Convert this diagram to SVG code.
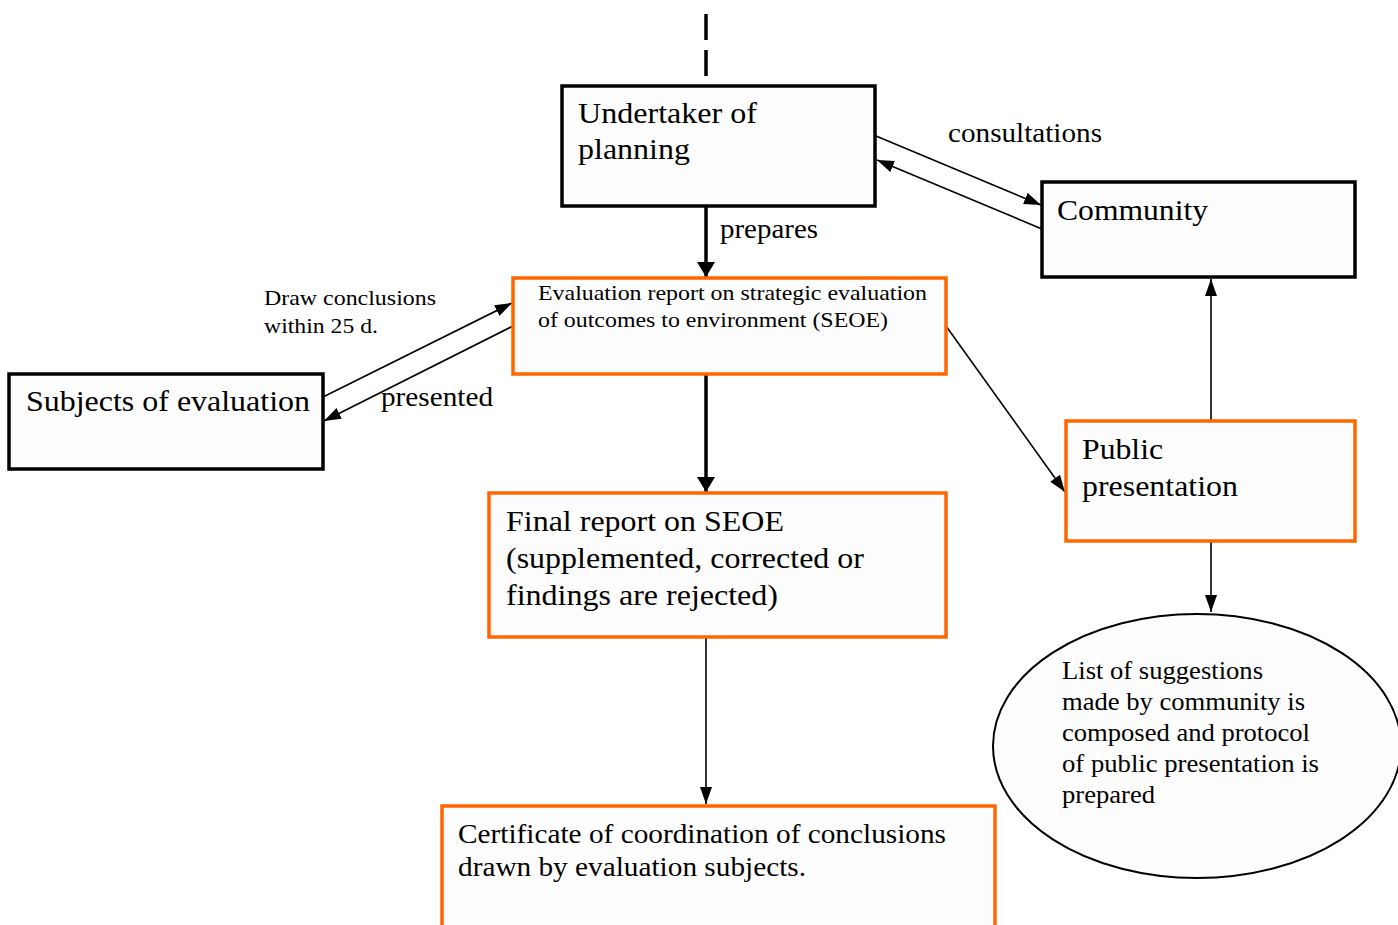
<svg xmlns="http://www.w3.org/2000/svg" width="1398" height="925" viewBox="0 0 1398 925" font-family="'Liberation Serif', 'Times New Roman', serif">
<defs>
<style>
text{font-family:'Liberation Serif','Times New Roman',serif;fill:#000}
.bk{fill:#fdfdfd;stroke:#000;stroke-width:3.5}
.or{fill:#fdfdfd;stroke:#FF6600;stroke-width:3.5}
.thick{stroke:#000;stroke-width:3.5;fill:none}
.thin{stroke:#000;stroke-width:1.6;fill:none}
</style>
<marker id="ah" viewBox="0 0 15 18" refX="15" refY="9" markerWidth="15" markerHeight="18" orient="auto" markerUnits="userSpaceOnUse"><path d="M0,0 L15,9 L0,18 z" fill="#000"/></marker>
<marker id="ahs" viewBox="0 0 17 12" refX="17" refY="6" markerWidth="17" markerHeight="12" orient="auto" markerUnits="userSpaceOnUse"><path d="M0,0 L17,6 L0,12 z" fill="#000"/></marker>
</defs>
<rect width="1398" height="925" fill="#fff"/>
<g id="connectors">
<line x1="706" y1="14" x2="706" y2="77" class="thick" stroke-dasharray="26,10"/>
<line x1="706" y1="207" x2="706" y2="277" class="thick" marker-end="url(#ah)"/>
<line x1="876" y1="136" x2="1041" y2="205" class="thin" marker-end="url(#ahs)"/>
<line x1="1042" y1="229" x2="877" y2="160" class="thin" marker-end="url(#ahs)"/>
<line x1="323" y1="397" x2="512" y2="303" class="thin" marker-end="url(#ahs)"/>
<line x1="513" y1="326" x2="324" y2="421" class="thin" marker-end="url(#ahs)"/>
<line x1="706" y1="375" x2="706" y2="492" class="thick" marker-end="url(#ah)"/>
<line x1="706" y1="638" x2="706" y2="804" class="thin" marker-end="url(#ahs)"/>
<line x1="946" y1="326" x2="1065" y2="492" class="thin" marker-end="url(#ahs)"/>
<line x1="1211" y1="420" x2="1211" y2="279" class="thin" marker-end="url(#ahs)"/>
<line x1="1211" y1="542" x2="1211" y2="612" class="thin" marker-end="url(#ahs)"/>
<text x="948" y="142" font-size="27" textLength="154" lengthAdjust="spacingAndGlyphs">consultations</text>
<text x="720" y="238" font-size="27" textLength="98" lengthAdjust="spacingAndGlyphs">prepares</text>
<text x="264" y="305" font-size="21" textLength="172" lengthAdjust="spacingAndGlyphs">Draw conclusions</text>
<text x="264" y="333" font-size="21" textLength="114" lengthAdjust="spacingAndGlyphs">within 25 d.</text>
<text x="381" y="406" font-size="27" textLength="112" lengthAdjust="spacingAndGlyphs">presented</text>
</g>
<g id="undertaker">
<rect x="562" y="86" width="313" height="120" class="bk"/>
<text x="578" y="123" font-size="30" textLength="179" lengthAdjust="spacingAndGlyphs">Undertaker of</text>
<text x="578" y="159" font-size="30" textLength="112" lengthAdjust="spacingAndGlyphs">planning</text>
</g>
<g id="community">
<rect x="1042" y="182" width="313" height="95" class="bk"/>
<text x="1057" y="220" font-size="30" textLength="151" lengthAdjust="spacingAndGlyphs">Community</text>
</g>
<g id="evaluation-report">
<rect x="513" y="278" width="433" height="96" class="or"/>
<text x="538" y="300" font-size="22" textLength="389" lengthAdjust="spacingAndGlyphs">Evaluation report on strategic evaluation</text>
<text x="538" y="327" font-size="22" textLength="350" lengthAdjust="spacingAndGlyphs">of outcomes to environment (SEOE)</text>
</g>
<g id="subjects">
<rect x="9" y="374" width="314" height="95" class="bk"/>
<text x="26" y="411" font-size="30" textLength="284" lengthAdjust="spacingAndGlyphs">Subjects of evaluation</text>
</g>
<g id="final-report">
<rect x="489" y="493" width="457" height="144" class="or"/>
<text x="506" y="531" font-size="30" textLength="278" lengthAdjust="spacingAndGlyphs">Final report on SEOE</text>
<text x="506" y="568" font-size="30" textLength="358" lengthAdjust="spacingAndGlyphs">(supplemented, corrected or</text>
<text x="506" y="605" font-size="30" textLength="272" lengthAdjust="spacingAndGlyphs">findings are rejected)</text>
</g>
<g id="public-presentation">
<rect x="1066" y="421" width="289" height="120" class="or"/>
<text x="1082" y="459" font-size="30" textLength="81" lengthAdjust="spacingAndGlyphs">Public</text>
<text x="1082" y="496" font-size="30" textLength="156" lengthAdjust="spacingAndGlyphs">presentation</text>
</g>
<g id="suggestions">
<ellipse cx="1197" cy="746" rx="204" ry="132" fill="#fdfdfd" stroke="#000" stroke-width="2"/>
<text x="1062" y="679" font-size="25" textLength="201" lengthAdjust="spacingAndGlyphs">List of suggestions</text>
<text x="1062" y="710" font-size="25" textLength="243" lengthAdjust="spacingAndGlyphs">made by community is</text>
<text x="1062" y="741" font-size="25" textLength="248" lengthAdjust="spacingAndGlyphs">composed and protocol</text>
<text x="1062" y="772" font-size="25" textLength="257" lengthAdjust="spacingAndGlyphs">of public presentation is</text>
<text x="1062" y="803" font-size="25" textLength="93" lengthAdjust="spacingAndGlyphs">prepared</text>
</g>
<g id="certificate">
<rect x="442" y="806" width="553" height="125" class="or"/>
<text x="458" y="843" font-size="28" textLength="488" lengthAdjust="spacingAndGlyphs">Certificate of coordination of conclusions</text>
<text x="458" y="876" font-size="28" textLength="348" lengthAdjust="spacingAndGlyphs">drawn by evaluation subjects.</text>
</g>
</svg>
